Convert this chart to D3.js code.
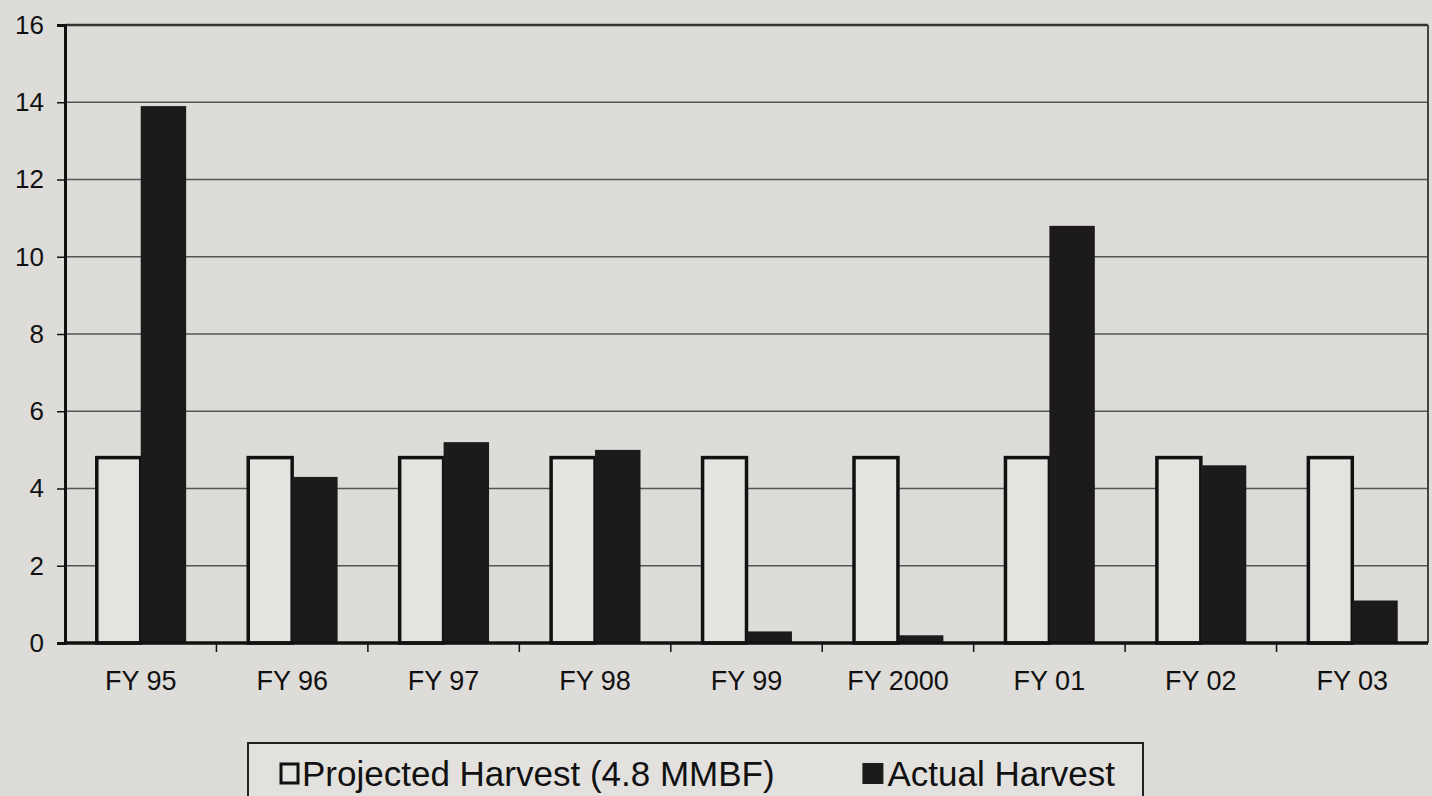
<!DOCTYPE html>
<html><head><meta charset="utf-8">
<script src="https://cdn.jsdelivr.net/npm/d3@7"></script>
<style>
html,body{margin:0;padding:0;background:#dedcd8;}
svg{display:block;}
text{font-family:"Liberation Sans",Arial,sans-serif;fill:#111;}
</style></head>
<body>
<svg id="c" width="1432" height="796"></svg>
<script>
const categories = ["FY 95","FY 96","FY 97","FY 98","FY 99","FY 2000","FY 01","FY 02","FY 03"];
const projected = [4.8,4.8,4.8,4.8,4.8,4.8,4.8,4.8,4.8];
const actual = [13.9,4.3,5.2,5.0,0.3,0.2,10.8,4.6,1.1];
const yTicks = [0,2,4,6,8,10,12,14,16];
const seriesNames = ["Projected Harvest (4.8 MMBF)","Actual Harvest"];

const svg = d3.select("#c");
const L=65, R=1428, T=25, B=643;
const x = d3.scaleBand().domain(categories).range([L,R]).paddingInner(0.4).paddingOuter(0.2);
const xs = d3.scaleBand().domain([0,1]).range([0,x.bandwidth()]);
const y = d3.scaleLinear().domain([0,16]).range([B,T]);

svg.append("rect").attr("width",1432).attr("height",796).attr("fill","#dedcd8");

// gridlines
svg.append("g").selectAll("line").data(yTicks.filter(d=>d>0 && d<16)).join("line")
  .attr("x1",L).attr("x2",R).attr("y1",d=>y(d)).attr("y2",d=>y(d))
  .attr("stroke","#555").attr("stroke-width",1.5);

// frame top/right
svg.append("line").attr("x1",L).attr("x2",R).attr("y1",y(16)).attr("y2",y(16)).attr("stroke","#333").attr("stroke-width",2.5);
svg.append("line").attr("x1",R).attr("x2",R).attr("y1",T).attr("y2",B).attr("stroke","#444").attr("stroke-width",2);

// bars
const g = svg.append("g");
g.selectAll("rect.p").data(categories).join("rect").attr("class","p")
  .attr("x",(d)=>x(d)+xs(0)+1.5).attr("width",xs.bandwidth()-1.5)
  .attr("y",(d,i)=>y(projected[i])).attr("height",(d,i)=>B-y(projected[i]))
  .attr("fill","#e4e3e0").attr("stroke","#111").attr("stroke-width",3.5);
g.selectAll("rect.a").data(categories).join("rect").attr("class","a")
  .attr("x",(d)=>x(d)+xs(1)).attr("width",xs.bandwidth())
  .attr("y",(d,i)=>y(actual[i])).attr("height",(d,i)=>B-y(actual[i]))
  .attr("fill","#1c1a1a");

// y axis
const ya = svg.append("g").attr("transform",`translate(${L},0)`)
  .call(d3.axisLeft(y).tickValues(yTicks).tickSize(8).tickPadding(13).tickFormat(d3.format("d")));
ya.select(".domain").attr("stroke","#111").attr("stroke-width",3);
ya.selectAll(".tick line").attr("stroke","#111").attr("stroke-width",1.5);
ya.selectAll("text").style("font-size","26px").attr("fill","#111");

// x axis
const xa = svg.append("g").attr("transform",`translate(0,${B})`)
  .call(d3.axisBottom(x).tickSize(0).tickPadding(28));
xa.select(".domain").remove();
xa.selectAll("text").style("font-size","27px").attr("fill","#111");
svg.append("line").attr("x1",L).attr("x2",R).attr("y1",B).attr("y2",B).attr("stroke","#111").attr("stroke-width",3.5);
// category boundary ticks
svg.append("g").selectAll("line").data(categories.slice(1)).join("line")
  .attr("x1",d=>x(d)-x.step()*x.paddingInner()/2).attr("x2",d=>x(d)-x.step()*x.paddingInner()/2)
  .attr("y1",B).attr("y2",B+9).attr("stroke","#111").attr("stroke-width",1.5);

// legend
const lg = svg.append("g");
lg.append("rect").attr("x",248).attr("y",743).attr("width",895).attr("height",70)
  .attr("fill","#e2e1de").attr("stroke","#222").attr("stroke-width",2);
lg.append("rect").attr("x",281).attr("y",764).attr("width",17).attr("height",19)
  .attr("fill","#e4e3e0").attr("stroke","#111").attr("stroke-width",3);
lg.append("text").attr("x",302).attr("y",786).style("font-size","35px").text(seriesNames[0]);
const at = lg.append("text").attr("x",1115).attr("y",786).attr("text-anchor","end").style("font-size","35px").text(seriesNames[1]);
const aw = at.node().getComputedTextLength();
lg.append("rect").attr("x",1115-aw-25).attr("y",763).attr("width",21).attr("height",21).attr("fill","#1c1a1a");
</script>
</body></html>
